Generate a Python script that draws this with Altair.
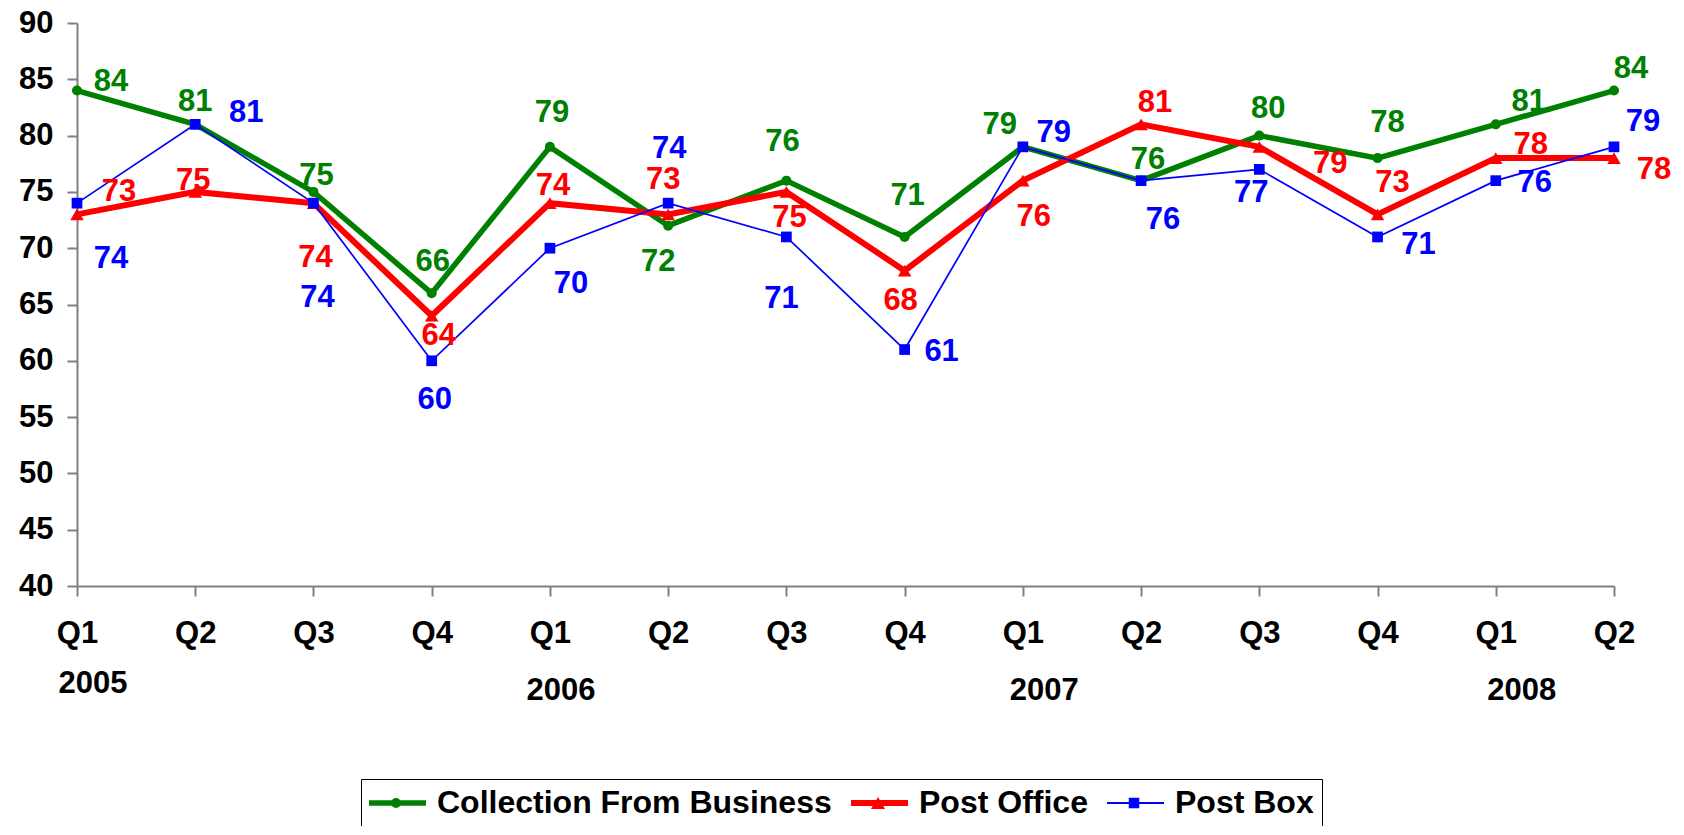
import altair as alt
import pandas as pd

# ---- data ----
quarters = ["Q1", "Q2", "Q3", "Q4", "Q1", "Q2", "Q3", "Q4",
            "Q1", "Q2", "Q3", "Q4", "Q1", "Q2"]
years = ["2005", "2006", "2007", "2008"]
year_start = [0, 4, 8, 12]
series = ["Collection From Business", "Post Office", "Post Box"]
collection = [84, 81, 75, 66, 79, 72, 76, 71, 79, 76, 80, 78, 81, 84]
post_office = [73, 75, 74, 64, 74, 73, 75, 68, 76, 81, 79, 73, 78, 78]
post_box = [74, 81, 74, 60, 70, 74, 71, 61, 79, 76, 77, 71, 76, 79]

# ---- style: label offsets (pixels, relative to each point) ----
collection_dx = [34, 0, 3, 1, 2, -10, -4, 3, -23, 7, 9, 10, 33, 17]
collection_dy = [-9, -22, -16, -31, -34, 36, -39, -41, -22, -21, -27, -35, -22, -22]
office_dx = [42, -2, 2, 7, 3, -5, 3, -4, 11, 14, 71, 15, 35, 40]
office_dy = [-22, -11, 55, 20, -17, -34, 26, 30, 36, -21, 17, -31, -13, 12]
box_dx = [34, 51, 4, 3, 21, 1, -5, 37, 31, 22, -8, 41, 39, 29]
box_dy = [56, -11, 95, 39, 36, -54, 62, 2, -14, 39, 24, 8, 2, -25]
year_dx = [16, 11, 21.5, 26]
year_dy = [-7.5, 0, 0, 0]

colors = ["#008000", "#FF0000", "#0000FF"]
widths = [5.5, 6, 1.7]
shapes = ["circle", "triangle-up", "square"]
sizes = [100, 180, 115]
FONT = "Liberation Sans"

rows = []
for name, vals, dxs, dys in [
    (series[0], collection, collection_dx, collection_dy),
    (series[1], post_office, office_dx, office_dy),
    (series[2], post_box, box_dx, box_dy),
]:
    for i, v in enumerate(vals):
        rows.append({"idx": i, "series": name, "value": v, "dx": dxs[i], "dy": dys[i]})
df = pd.DataFrame(rows)

ydf = pd.DataFrame({"idx": year_start, "year": years, "dx": year_dx, "dy": year_dy})

label_expr = "[" + ",".join("'%s'" % q for q in quarters) + "][datum.value]"

x_enc = alt.X(
    "idx:O",
    scale=alt.Scale(type="point", padding=0, domain=list(range(len(quarters)))),
    axis=alt.Axis(
        title=None, labelExpr=label_expr, labelAngle=0,
        labelFont=FONT, labelFontSize=31, labelFontWeight="bold", labelColor="black",
        labelPadding=22, tickSize=10, tickWidth=2, tickColor="#808080",
        domainColor="#808080", domainWidth=2,
    ),
)
y_enc = alt.Y(
    "value:Q",
    scale=alt.Scale(domain=[40, 90], nice=False, zero=False),
    axis=alt.Axis(
        title=None, values=list(range(40, 91, 5)), grid=False,
        labelFont=FONT, labelFontSize=31, labelFontWeight="bold", labelColor="black",
        labelPadding=14, tickSize=10, tickWidth=2, tickColor="#808080",
        domainColor="#808080", domainWidth=2,
    ),
)
color_nolegend = alt.Color("series:N", scale=alt.Scale(domain=series, range=colors), legend=None)

legend_paths = [
    "M-2,-0.18H2V0.18H-2Z M-0.33,0A0.33,0.33 0 1,1 0.33,0A0.33,0.33 0 1,1 -0.33,0Z",
    "M-2,-0.2H2V0.2H-2Z M-0.47,0.4L0,-0.4L0.47,0.4Z",
    "M-2,-0.06H2V0.06H-2Z M-0.35,-0.35H0.35V0.35H-0.35Z",
]
leg = alt.Legend(
    title=None, orient="none", legendX=284, legendY=756, direction="horizontal",
    columns=3, strokeColor="black", padding=8, columnPadding=19, clipHeight=32,
    labelFont=FONT, labelFontSize=32, labelFontWeight="bold", labelColor="black",
    labelLimit=1000, symbolSize=900, symbolOffset=11, labelOffset=25,
    symbolStrokeWidth=0, symbolStrokeColor="transparent", symbolOpacity=1,
)

base = alt.Chart(df)

legend_layer = base.transform_filter("false").mark_point(filled=True, opacity=1).encode(
    x=x_enc, y=y_enc,
    color=alt.Color("series:N", scale=alt.Scale(domain=series, range=colors), legend=leg),
    shape=alt.Shape("series:N", scale=alt.Scale(domain=series, range=legend_paths), legend=leg),
)

line_layers = []
point_layers = []
for s, w, shp, sz in zip(series, widths, shapes, sizes):
    sub = base.transform_filter(alt.datum.series == s)
    line_layers.append(
        sub.mark_line(strokeWidth=w).encode(x=x_enc, y=y_enc, color=color_nolegend)
    )
    point_layers.append(
        sub.mark_point(filled=True, shape=shp, size=sz, opacity=1, strokeWidth=0)
        .encode(x=x_enc, y=y_enc, color=color_nolegend)
    )

labels = base.mark_text(
    font=FONT, fontSize=31, fontWeight="bold", align="center", baseline="middle",
    dx={"expr": "datum.dx"}, dy={"expr": "datum.dy"},
).encode(x=x_enc, y=y_enc, color=color_nolegend, text="value:Q")

year_labels = alt.Chart(ydf).mark_text(
    font=FONT, fontSize=31, fontWeight="bold", align="center", baseline="middle",
    color="black", dx={"expr": "datum.dx"}, dy={"expr": "datum.dy"},
).encode(x=x_enc, y=alt.value(668), text="year:N")

chart = alt.layer(
    legend_layer,
    line_layers[0], point_layers[0],
    line_layers[1], point_layers[1],
    line_layers[2], point_layers[2],
    labels, year_labels,
).properties(
    width=1537, height=563,
    autosize=alt.AutoSizeParams(type="none"),
    padding={"left": 69, "top": 15, "right": 60, "bottom": 240},
    background="white",
).configure_view(stroke=None)

chart.save("out.html", embed_options={"renderer": "svg", "actions": False})
